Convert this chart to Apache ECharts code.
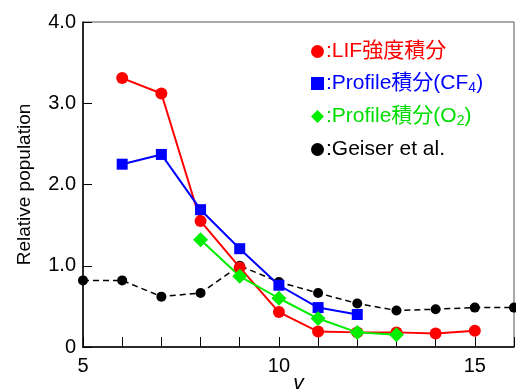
<!DOCTYPE html>
<html>
<head>
<meta charset="utf-8">
<script src="https://cdn.jsdelivr.net/npm/echarts@6/dist/echarts.min.js"></script>
<style>
html, body { margin: 0; padding: 0; background: #fff; }
#main { width: 516px; height: 392px; }
</style>
</head>
<body>
<div id="main"></div>
<script>
var chart = echarts.init(document.getElementById('main'));

// データ (v, 値)
var lifV = [6, 7, 8, 9, 10, 11, 12, 13, 14, 15];
var lifVal = [3.31, 3.12, 1.55, 0.98, 0.43, 0.19, 0.18, 0.18, 0.165, 0.2];
var cf4V = [6, 7, 8, 9, 10, 11, 12];
var cf4Val = [2.25, 2.37, 1.69, 1.21, 0.76, 0.485, 0.40];
var o2V = [8, 9, 10, 11, 12, 13];
var o2Val = [1.32, 0.87, 0.60, 0.35, 0.18, 0.15];
var geiserV = [5, 6, 7, 8, 9, 10, 11, 12, 13, 14, 15, 16];
var geiserVal = [0.82, 0.82, 0.62, 0.665, 1.0, 0.80, 0.665, 0.535, 0.45, 0.465, 0.485, 0.485];
var names = ['LIF強度積分', 'Profile積分(CF4)', 'Profile積分(O2)', 'Geiser et al.'];

function pairs(xs, ys) {
    return xs.map(function (x, i) { return [x, ys[i]]; });
}

var font = '"Liberation Sans", Arial, "Noto Sans CJK JP", sans-serif';

var option = {
    animation: false,
    textStyle: { fontFamily: font },
    grid: {
        left: 83,
        right: 2,
        top: 22,
        bottom: 45,
        outerBoundsMode: 'none',
        containLabel: false,
        show: true,
        borderColor: '#555',
        borderWidth: 1
    },
    legend: {
        orient: 'vertical',
        left: 306,
        top: 36,
        itemWidth: 13,
        itemHeight: 13,
        itemGap: 11,
        textStyle: {
            fontFamily: font,
            fontSize: 21,
            padding: [0, 0, 0, -3],
            rich: {
                sub: { fontSize: 14, verticalAlign: 'bottom', padding: [9, 0, 0, 0] }
            }
        },
        formatter: function (name) {
            if (name === names[1]) return ':Profile積分(CF{sub|4})';
            if (name === names[2]) return ':Profile積分(O{sub|2})';
            return ':' + name;
        },
        data: [
            { name: names[0], icon: 'circle', textStyle: { color: '#ff0000' } },
            { name: names[1], icon: 'rect', textStyle: { color: '#0000ff' } },
            { name: names[2], icon: 'diamond', textStyle: { color: '#00dd00' } },
            { name: names[3], icon: 'circle', textStyle: { color: '#000' } }
        ]
    },
    xAxis: {
        type: 'value',
        min: 5,
        max: 16,
        interval: 1,
        name: 'v',
        nameLocation: 'middle',
        nameGap: 26,
        nameMoveOverlap: false,
        nameTextStyle: { fontSize: 21, fontStyle: 'italic', color: '#000' },
        splitLine: { show: false },
        axisLine: { lineStyle: { color: '#000', width: 1.5 } },
        axisTick: { inside: true, length: 10, lineStyle: { color: '#000' } },
        axisLabel: {
            fontSize: 20,
            color: '#000',
            margin: 9,
            formatter: function (v) { return v % 5 === 0 ? String(v) : ''; }
        }
    },
    yAxis: {
        type: 'value',
        min: 0,
        max: 4,
        interval: 1,
        name: 'Relative population',
        nameLocation: 'middle',
        nameGap: 49,
        nameMoveOverlap: false,
        nameTextStyle: { fontSize: 19, color: '#000' },
        splitLine: { show: false },
        axisLine: { show: true, lineStyle: { color: '#000', width: 1.5 } },
        axisTick: { inside: true, length: 9, lineStyle: { color: '#000' } },
        axisLabel: {
            fontSize: 20,
            color: '#000',
            margin: 7,
            formatter: function (v) { return v === 0 ? '0' : v.toFixed(1); }
        }
    },
    series: [
        {
            name: names[3],
            type: 'line',
            data: pairs(geiserV, geiserVal),
            symbol: 'circle',
            symbolSize: 10,
            color: '#000',
            lineStyle: { color: '#000', width: 1.5, type: [6, 4] }
        },
        {
            name: names[0],
            type: 'line',
            data: pairs(lifV, lifVal),
            symbol: 'circle',
            symbolSize: 12,
            color: '#ff0000',
            lineStyle: { color: '#ff0000', width: 2 }
        },
        {
            name: names[1],
            type: 'line',
            data: pairs(cf4V, cf4Val),
            symbol: 'rect',
            symbolSize: 11,
            color: '#0000ff',
            lineStyle: { color: '#0000ff', width: 2 }
        },
        {
            name: names[2],
            type: 'line',
            data: pairs(o2V, o2Val),
            symbol: 'diamond',
            symbolSize: 15,
            color: '#00ee00',
            lineStyle: { color: '#00ee00', width: 2 }
        }
    ]
};
chart.setOption(option);
</script>
</body>
</html>
